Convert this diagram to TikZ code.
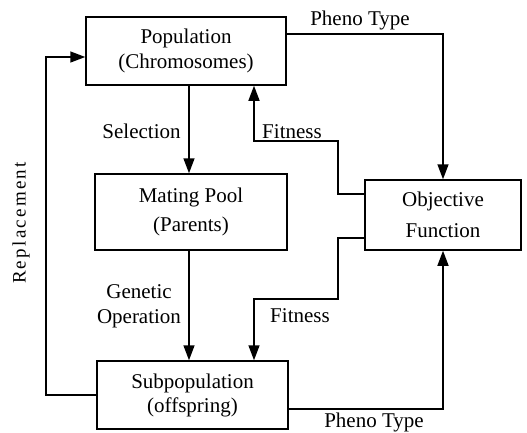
\documentclass[tikz,border=0pt]{standalone}
\usepackage{fontspec}
\setmainfont{Liberation Serif}
\usetikzlibrary{calc,arrows.meta}
\begin{document}
\begin{tikzpicture}[x=1pt,y=-1pt,
  box/.style={draw, line width=1.5pt, inner sep=0pt, align=center},
  fnt/.style={font=\fontsize{21}{#1}\selectfont},
  conn/.style={line width=1.5pt},
  arr/.style={line width=1.5pt, -{Triangle[length=15pt,width=11pt]}},
  lbl/.style={font=\fontsize{21}{25}\selectfont, inner sep=0pt, anchor=base},
  mlbl/.style={font=\fontsize{21}{25}\selectfont, inner sep=0pt, align=center}]
\useasboundingbox (0,0) rectangle (527,432);
% boxes
\node[box, fnt=25, minimum width=200pt, minimum height=68pt] (pop) at (186,51) {Population\\(Chromosomes)};
\node[box, fnt=29, minimum width=192pt, minimum height=76pt] (mate) at (191,212) {Mating Pool\\(Parents)};
\node[box, fnt=24, minimum width=191pt, minimum height=68pt] (sub) at (192.5,395) {Subpopulation\\(offspring)};
\node[box, fnt=31, minimum width=156pt, minimum height=70pt] (obj) at (443,215) {Objective\\Function};
% helper coordinates
\coordinate (cx) at (189,0);
\coordinate (fx) at (254,0);
\coordinate (fu) at (338,141);
\coordinate (fl) at (338,299);
\coordinate (rx) at (46,0);
% connectors
\draw[arr] (pop.south -| cx) -- (mate.north -| cx);
\draw[arr] (mate.south -| cx) -- (sub.north -| cx);
\draw[arr] ($(pop.east)+(0,-17)$) -| (obj.north);
\draw[arr] ($(obj.west)+(0,-21)$) -| (fu) -| (fx |- pop.south);
\draw[arr] ($(obj.west)+(0,23)$) -| (fl) -| (fx |- sub.north);
\draw[arr] ($(sub.east)+(0,14)$) -| (obj.south);
\draw[arr] (sub.west) -| ($(rx |- pop.west)+(0,6)$) -- ($(pop.west)+(0,6)$);
% labels
\node[lbl] (lpt1) at (360,25) {Pheno Type};
\node[lbl] (lsel) at (141.5,138) {Selection};
\node[lbl] (lfit1) at (292,138) {Fitness};
\node[mlbl] (lgen) at (139,306) {Genetic\\Operation};
\node[lbl] (lfit2) at (300,322) {Fitness};
\node[lbl] (lpt2) at (374,427) {Pheno Type};
\node[inner sep=0pt, rotate=90, font={\fontsize{19}{22}\selectfont\addfontfeature{LetterSpace=12}}] (lrep) at (21,223) {Replacement};
\end{tikzpicture}
\end{document}
